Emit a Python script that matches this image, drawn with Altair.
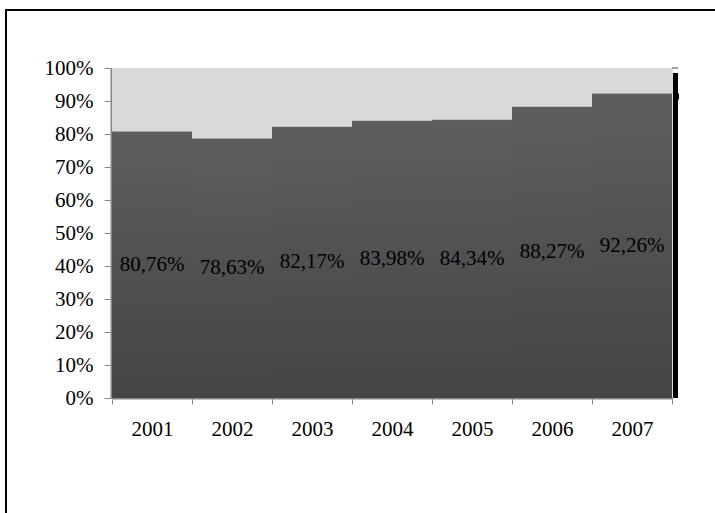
import altair as alt
import pandas as pd

years = ["2001", "2002", "2003", "2004", "2005", "2006", "2007"]
values = [80.76, 78.63, 82.17, 83.98, 84.34, 88.27, 92.26]
edge_top = 98.5  # black edge bar on the right (percent)

labels = [f"{v:.2f}".replace(".", ",") + "%" for v in values]
df = pd.DataFrame({
    "idx": list(range(len(years))),
    "year": years,
    "share": [v / 100 for v in values],
    "label": labels,
})
df["idx2"] = df["idx"] + 1
df["mid"] = df["idx"] + 0.5
df["half"] = df["share"] / 2
df["full"] = 1.0

FONT = "Liberation Serif"
FS = 21
AXIS_GRAY = "#868686"

year_arr = "[" + ",".join(f"'{y}'" for y in years) + "]"
x_ticks = [i * 0.5 for i in range(2 * len(years) + 1)]

x_scale = alt.Scale(domain=[0, len(years)], nice=False, zero=False)
y_scale = alt.Scale(domain=[0, 1], nice=False)

x_axis = alt.Axis(
    values=x_ticks,
    labelExpr=f"(datum.value % 1 == 0.5) ? {year_arr}[floor(datum.value)] : ''",
    title=None, grid=False,
    domainColor=AXIS_GRAY, domainWidth=2,
    tickColor=AXIS_GRAY, tickSize=6, tickWidth=1,
    tickOpacity={"condition": {"test": "datum.value % 1 != 0", "value": 0}, "value": 1},
    labelFont=FONT, labelFontSize=FS, labelColor="black",
    labelPadding=14, labelFlush=False, labelOverlap=False,
)
y_axis = alt.Axis(
    values=[i / 10 for i in range(11)], format=".0%",
    title=None, grid=False, offset=1,
    domainColor=AXIS_GRAY, domainWidth=2,
    tickColor=AXIS_GRAY, tickSize=7, tickWidth=1,
    labelFont=FONT, labelFontSize=FS, labelColor="black",
    labelPadding=11, labelFlush=False, labelOverlap=False,
)

base = alt.Chart(df)

rest = base.mark_rect(color="#d9d9d9").encode(
    x=alt.X("idx:Q", scale=x_scale, axis=x_axis),
    x2="idx2:Q",
    y=alt.Y("share:Q", scale=y_scale, axis=y_axis),
    y2="full:Q",
)

grad = alt.LinearGradient(
    gradient="linear",
    stops=[alt.GradientStop(color="#5e5e5e", offset=0),
           alt.GradientStop(color="#444444", offset=1)],
    x1=0, x2=0, y1=0, y2=1,
)
bars = base.mark_rect(color=grad).encode(
    x=alt.X("idx:Q", scale=x_scale, axis=x_axis),
    x2="idx2:Q",
    y=alt.Y("share:Q", scale=y_scale, axis=y_axis),
    y2=alt.datum(0),
)

text = base.mark_text(font=FONT, fontSize=FS, color="black",
                      align="center", baseline="middle").encode(
    x=alt.X("mid:Q", scale=x_scale, axis=x_axis),
    y=alt.Y("half:Q", scale=y_scale, axis=y_axis),
    text="label:N",
)

edge_df = pd.DataFrame({"top": [edge_top / 100], "bottom": [0.0]})
edge = alt.Chart(edge_df).mark_rule(color="black", strokeWidth=5).encode(
    x=alt.value(563.5),
    y=alt.Y("top:Q", scale=y_scale, axis=y_axis),
    y2="bottom:Q",
)

# small notch on the edge bar at the level of the last value
notch = base.transform_filter(
    alt.datum.idx == len(years) - 1
).mark_rule(color="black", strokeWidth=6, yOffset=3).encode(
    x=alt.value(561), x2=alt.value(567),
    y=alt.Y("share:Q", scale=y_scale, axis=y_axis),
)

# grey cap above the edge bar
cap = base.transform_filter(
    alt.datum.idx == len(years) - 1
).mark_rule(color=AXIS_GRAY, strokeWidth=1.5).encode(
    x=alt.value(560), x2=alt.value(566),
    y=alt.Y("full:Q", scale=y_scale, axis=y_axis),
)

frame_df = pd.DataFrame({"k": [0]})
frame_left = alt.Chart(frame_df).mark_rule(color="black", strokeWidth=2).encode(
    x=alt.value(-106), y=alt.value(-59), y2=alt.value(460),
)
frame_top = alt.Chart(frame_df).mark_rule(color="black", strokeWidth=2).encode(
    y=alt.value(-58), x=alt.value(-107), x2=alt.value(620),
)

chart = alt.layer(rest, bars, text, edge, notch, cap, frame_left, frame_top).properties(
    width=560, height=330,
    padding={"left": 112, "top": 68, "right": 43, "bottom": 115},
    autosize="none",
).configure_view(stroke=None).configure(background="white")

chart.save("out.html", embed_options={"renderer": "svg", "actions": False})
